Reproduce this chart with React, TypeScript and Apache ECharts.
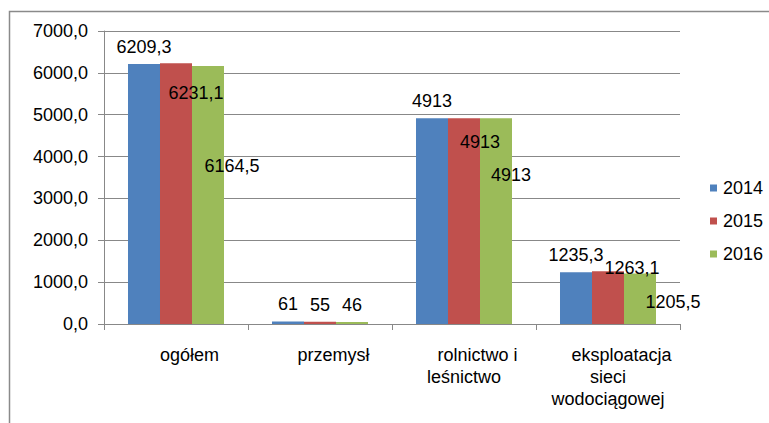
import React, { useEffect, useRef } from "react";
import * as echarts from "echarts";

const categories = ["ogółem", "przemysł", "rolnictwo i\nleśnictwo", "eksploatacja\nsieci\nwodociągowej"];
const seriesNames = ["2014", "2015", "2016"];
const values2014 = [6209.3, 61, 4913, 1235.3];
const values2015 = [6231.1, 55, 4913, 1263.1];
const values2016 = [6164.5, 46, 4913, 1205.5];
const yTicks = { min: 0, max: 7000, interval: 1000 };

const colors = ["#4F81BD", "#C0504D", "#9BBB59"];
// label offsets (layout only), per series per category
const labelOffsets = [
  [[0, 0], [0, 0], [0, 0], [0, 0]],
  [[20, 47], [0, 0], [16, 41], [24, 14]],
  [[24, 117], [0, 0], [15, 74], [33, 45]],
];

const FONT = "'Liberation Sans', Arial, sans-serif";

const fmtVal = (v: number) => (Number.isInteger(v) ? String(v) : v.toFixed(1).replace(".", ","));

export default function App() {
  const ref = useRef<HTMLDivElement>(null);
  useEffect(() => {
    if (!ref.current) return;
    const chart = echarts.init(ref.current, undefined, { renderer: "svg" });
    const all = [values2014, values2015, values2016];
    chart.setOption({
      animation: false,
      textStyle: { fontFamily: FONT },
      grid: { left: 104, right: 89, top: 31, bottom: 99 },
      graphic: [
        {
          type: "rect",
          shape: { x: 9.5, y: 11.5, width: 900, height: 600 },
          style: { fill: "none", stroke: "#8a8a8a", lineWidth: 1.5 },
          silent: true,
        },
      ],
      legend: {
        orient: "vertical",
        left: 710,
        top: 179,
        padding: 0,
        itemWidth: 7,
        itemHeight: 7,
        itemGap: 15,
        icon: "rect",
        textStyle: { fontSize: 18, color: "#000", fontFamily: FONT, lineHeight: 18, padding: [0, 0, 0, 1] },
        data: seriesNames,
      },
      xAxis: {
        type: "category",
        data: categories,
        axisLine: { show: true, lineStyle: { color: "#888", width: 1 } },
        axisTick: { show: true, length: 6, lineStyle: { color: "#888" } },
        axisLabel: {
          interval: 0,
          margin: 20,
          color: "#000",
          fontSize: 18,
          lineHeight: 22,
          fontFamily: FONT,
          formatter: (v: string) => {
            const lines = v.split("\n");
            return lines.map((l, i) => (i === 0 ? `{a|${l}}` : `{b|${l}}`)).join("\n");
          },
          rich: {
            a: { fontSize: 18, lineHeight: 22, color: "#000", fontFamily: FONT, padding: [0, 0, 0, 27] },
            b: { fontSize: 18, lineHeight: 22, color: "#000", fontFamily: FONT },
          },
        },
      },
      yAxis: {
        type: "value",
        min: yTicks.min,
        max: yTicks.max,
        interval: yTicks.interval,
        axisLine: { show: true, lineStyle: { color: "#888", width: 1 } },
        axisTick: { show: true, length: 6, lineStyle: { color: "#888" } },
        splitLine: { show: true, lineStyle: { color: "#888", width: 1 } },
        axisLabel: {
          margin: 16,
          color: "#000",
          fontSize: 18,
          fontFamily: FONT,
          formatter: (v: number) => v.toFixed(1).replace(".", ","),
        },
      },
      series: seriesNames.map((name, s) => ({
        name,
        type: "bar",
        barGap: "0%",
        barCategoryGap: "33.33%",
        itemStyle: { color: colors[s] },
        label: {
          show: true,
          position: "top",
          distance: 8,
          color: "#000",
          fontSize: 18,
          fontFamily: FONT,
          formatter: (p: any) => fmtVal(p.value),
        },
        data: all[s].map((v, i) => ({
          value: v,
          label: { offset: labelOffsets[s][i] },
        })),
        z: 2,
      })),
    });
    return () => chart.dispose();
  }, []);
  return (
    <div
      ref={ref}
      style={{ position: "fixed", left: 0, top: 0, width: 769, height: 423, background: "#fff" }}
    />
  );
}
